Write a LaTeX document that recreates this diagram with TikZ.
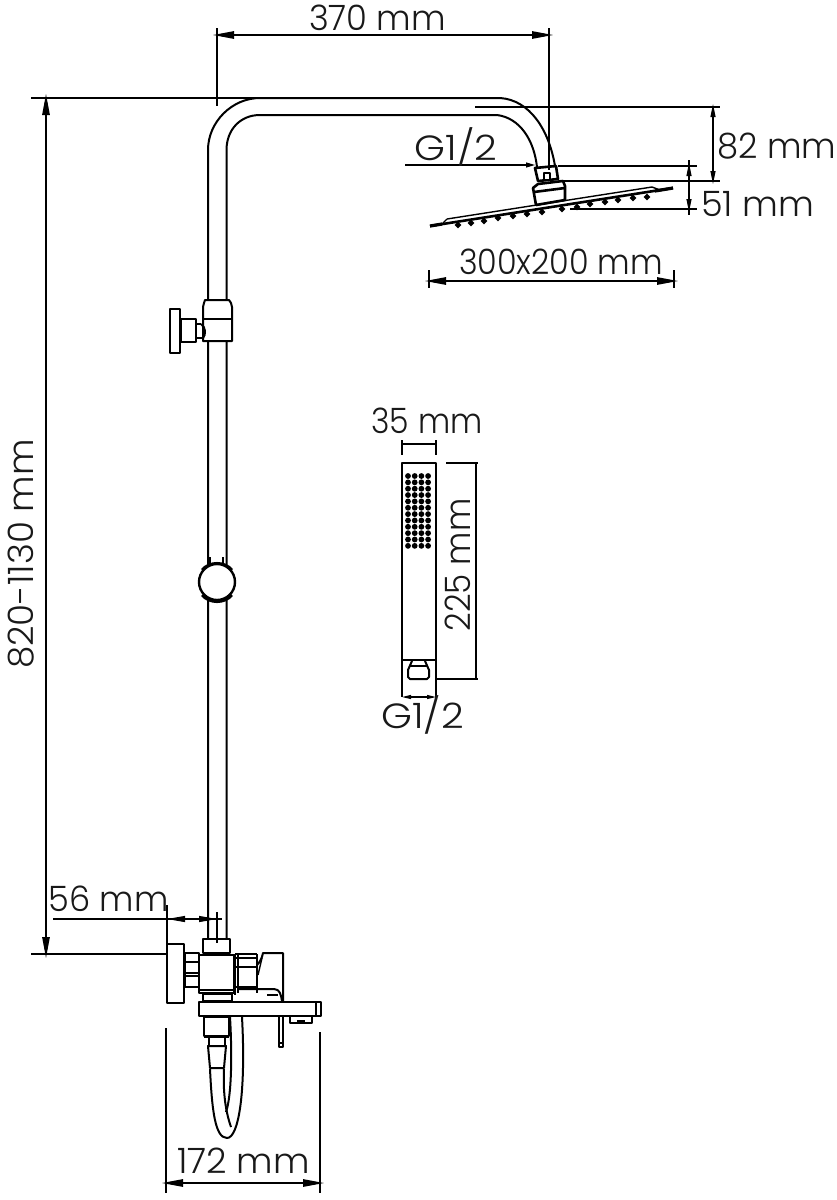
\documentclass[tikz,border=0pt]{standalone}
\usepackage{fontspec}
\setmainfont{Poppins Light}
\usetikzlibrary{arrows.meta}
\newcommand{\widen}[2]{\scalebox{#1}[1]{#2}}
\begin{document}
\begin{tikzpicture}[x=1pt,y=-1pt,
  part/.style={draw=black,line width=2pt,line join=round},
  thick part/.style={draw=black,line width=2.6pt,line join=round},
  thin part/.style={draw=black,line width=1.4pt,line join=round},
  dimline/.style={draw=black,line width=1.1pt},
  dim/.style={draw=black,line width=1.1pt,{Triangle[length=21pt,width=7.5pt]}-{Triangle[length=21pt,width=7.5pt]},shorten <=-4pt,shorten >=-4pt},
  smalldim/.style={draw=black,line width=1.1pt,{Triangle[length=13pt,width=5pt]}-{Triangle[length=13pt,width=5pt]},shorten <=-3pt,shorten >=-3pt},
  lab/.style={inner sep=0pt,font=\fontsize{35}{35}\selectfont,text=black!90}]
\useasboundingbox (0,0) rectangle (836,1200);
\fill[white] (0,0) rectangle (836,1200);
% riser and arm
\draw[part] (208,940) -- (208,150) .. controls (208,122) and (232,98) .. (260,98) -- (500,98) .. controls (530,100) and (549,130) .. (555,166);
\draw[part] (226.5,940) -- (226.5,150) .. controls (226.5,130) and (240,115) .. (260,115) -- (497,115) .. controls (520,118) and (534,140) .. (537,167);
% upper bracket
\draw[part,fill=white] (205,300) -- (229,300) -- (231,303) -- (232,307) -- (232,341) -- (203,341) -- (203,307) -- (204,303) -- cycle;
\draw[thick part] (203,319) -- (232,319);
\draw[part,fill=white] (181,319) rectangle (196,342);
\draw[thick part,fill=white] (170,309) rectangle (180,353);
\draw[part] (196,324) -- (201,324) (196,338) -- (203,338);
\draw[part] (201,324) .. controls (206,327) and (206,335) .. (203,338);
% slider
\node[circle,draw=black,line width=2.4pt,fill=white,minimum size=36pt,inner sep=0pt] (slider) at (217,582) {};
\draw[line width=1.6pt] (210,557) -- (210,565) (223,557) -- (223,565);
\draw[line width=2.6pt] (202,570) .. controls (209,561) and (225,561) .. (232,570);
\draw[line width=2.6pt] (202,595) .. controls (209,604) and (225,604) .. (232,595);
% shower head
\draw[thick part,fill=white] (535,168) -- (556,166) -- (558,179) -- (538,181) -- cycle;
\draw[thin part,fill=white] (544,173) rectangle (550,180);
\foreach \x/\y in {458/225,471/223,484/221,498/218,513/216,527/214,542/212,562/209,577/207,590/204,605/202,618/200,633/198,647/197}
  \draw[line width=2.2pt,fill=white] (\x,\y) circle (1.9pt);
\draw[line width=2.6pt] (430,226) -- (673,188);
\draw[line width=3.2pt] (430,226) -- (442,224) (655,191) -- (673,188);
\draw[thin part] (447,219) -- (652,187) -- (660,190);
\draw[thin part] (443,223) -- (447,219);
\draw[thick part,fill=white] (533,188) -- (538,184) -- (563,181) -- (565,186) -- (565,200) -- (536,205) -- cycle;
\draw[thick part] (534,192) -- (565,188);
% hand shower
\draw[part,fill=white] (402,463) rectangle (436,660);
\draw[thick part] (402,463) -- (436,463);
\foreach \i in {0,...,11}{\foreach \j in {0,...,3}{
  \fill[black] (408+\j*6.7,476+\i*6.35) circle (2.9pt);}}
\draw[part] (412,661) -- (408,670) -- (408,677) -- (410,679) -- (427,679) -- (429,677) -- (429,670) -- (425,661);
\draw[thin part] (409,666) -- (428,666);
\draw[part] (402,660) -- (402,697) (436,660) -- (436,697);
% mixer
\draw[thick part,fill=white] (167,944) rectangle (184,1003);
\draw[part,fill=white] (185,953) rectangle (199,987);
\draw[part] (186,962) -- (198,962) (186,973) -- (198,973) (186,976) -- (198,976);
\draw[thick part,fill=white] (203,939) rectangle (230,953);
\draw[thick part,fill=white] (199,955) rectangle (234,993);
\draw[part] (199,990) -- (234,990);
\draw[part] (203,994) rectangle (232,1001);
\draw[thick part] (235,954) -- (257,954) (236,958) -- (256,958) (236,967) -- (256,967) (236,987) -- (256,987);
\draw[part] (235,954) -- (235,995) (238,954) -- (238,993);
\draw[thick part] (257,954) -- (257,993);
\draw[part] (257,965) .. controls (260,962) and (262,958) .. (263,953) -- (283,953) -- (283,1001);
\draw[line width=1.4pt] (262,958) -- (258,975);
\draw[part] (238,989) -- (274,989) .. controls (280,989) and (281,995) .. (282,1001);
\draw[thin part] (267,995) -- (278,995);
% spout plate
\draw[thick part,fill=white] (199,1002) rectangle (316,1016);
\draw[part] (316,1002) rectangle (321,1016);
\draw[part] (290,1017) -- (290,1023) -- (312,1023) -- (312,1017);
\draw[thin part] (297,1021) -- (305,1021);
\draw[part,fill=white] (279,1017) -- (279,1047) -- (283,1047) -- (283,1017);
\draw[thick part] (279,1043) -- (283,1043);
% hose
\draw[part] (210,1069) .. controls (212,1110) and (215,1138) .. (227,1138) .. controls (239,1138) and (246,1090) .. (242,1017);
\draw[part] (224,1069) .. controls (223,1090) and (225,1110) .. (231,1127);
\draw[part] (230,1017) .. controls (232,1050) and (232,1095) .. (226,1112);
% hose connector
\draw[part,fill=white] (204,1017) rectangle (229,1036);
\draw[thick part] (204,1037) -- (229,1037);
\draw[part] (209,1038) -- (209,1046) (225,1038) -- (225,1046);
\draw[part,fill=white] (208,1046) -- (226,1046) -- (224,1068) -- (210,1068) -- cycle;
% dimensions
\coordinate (a1) at (217,35); \coordinate (a2) at (549,35);
\draw[dim] (a1) -- (a2);
\draw[dimline] (217,28) -- (217,106) (549,28) -- (549,170);
\node[lab] (t370) at (377.5,18) {\widen{.965}{370 mm}};
\coordinate (b1) at (46,98); \coordinate (b2) at (46,954);
\draw[dim] (b1) -- (b2);
\draw[dimline] (31,98) -- (262,98) (31,954) -- (167,954);
\node[lab,rotate=90] (t820) at (21,554) {\widen{1.02}{820-1130 mm}};
\coordinate (c1) at (713,107); \coordinate (c2) at (713,181);
\draw[smalldim] (c1) -- (c2);
\draw[dimline] (475,107) -- (720,107) (564,181) -- (720,181);
\node[lab] (t82) at (777,146) {\widen{.965}{82 mm}};
\coordinate (d1) at (689,166); \coordinate (d2) at (689,209);
\draw[smalldim] (d1) -- (d2);
\draw[dimline] (558,166) -- (697,166) (570,209) -- (697,209) (689,160) -- (689,215);
\node[lab] (t51) at (757.5,204) {51 mm};
\coordinate (e1) at (405,165); \coordinate (e2) at (535,165);
\draw[dimline,-{Triangle[length=9pt,width=5pt]}] (e1) -- (e2);
\node[lab] (tg1) at (456,147) {\widen{1.13}{G1/2}};
\coordinate (f1) at (429,281); \coordinate (f2) at (674,281);
\draw[dim] (f1) -- (f2);
\draw[dimline] (429,270) -- (429,288) (674,270) -- (674,288);
\node[lab] (t300) at (561,262) {\widen{.91}{300x200 mm}};
\draw[dimline] (402,440) -- (402,455) (436,440) -- (436,455) (402,444) -- (436,444);
\node[lab] (t35) at (427,421) {\widen{.9}{35 mm}};
\draw[dimline] (446,463) -- (478,463) (437,679) -- (478,679);
\draw[dimline] (476,463) -- (476,679);
\node[lab,rotate=90] (t225) at (458,565) {\widen{.93}{225 mm}};
\draw[draw=black,line width=1.1pt,{Triangle[length=9pt,width=4pt]}-{Triangle[length=9pt,width=4pt]}] (402,697) -- (436,697);
\node[lab] (tg2) at (422.5,715) {\widen{1.13}{G1/2}};
\coordinate (g1) at (167,919); \coordinate (g2) at (217,919);
\draw[dimline] (53,919) -- (222,919);
\draw[dimline,{Triangle[length=18pt,width=6pt]}-{Triangle[length=18pt,width=6pt]}] (g1) -- (g2);
\draw[dimline] (167,905) -- (167,945) (217,912) -- (217,943);
\node[lab] (t56) at (108.5,899) {\widen{.96}{56 mm}};
\coordinate (h1) at (166,1183); \coordinate (h2) at (320,1183);
\draw[dim] (h1) -- (h2);
\draw[dimline] (166,1028) -- (166,1193) (320,1032) -- (320,1193);
\node[lab] (t172) at (243.5,1161) {\widen{1.02}{172 mm}};
\end{tikzpicture}
\end{document}
